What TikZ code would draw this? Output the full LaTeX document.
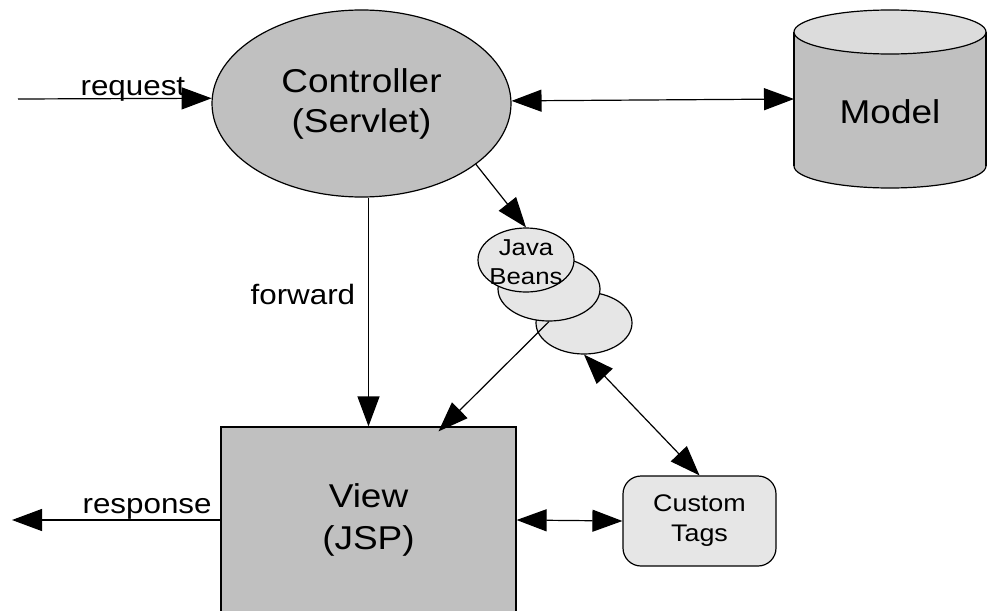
\documentclass[tikz,border=0pt]{standalone}
\usepackage{fontspec}
\setmainfont{Liberation Sans}[FakeStretch=1.12]
\usetikzlibrary{arrows.meta,shapes.geometric,calc}
\definecolor{mid}{HTML}{C0C0C0}
\definecolor{lite}{HTML}{E6E6E6}
\definecolor{cyltop}{HTML}{DCDCDC}
\tikzset{
  head/.tip={Triangle[length=30pt,width=22pt]},
  arr/.style={-head},
  darr/.style={head-head},
  bigtxt/.style={font=\fontsize{33}{40}\selectfont, align=center},
  lbl/.style={font=\fontsize{28}{32}\selectfont, inner sep=0pt},
  smalltxt/.style={font=\fontsize{23}{29}\selectfont, align=center},
  bean/.style={ellipse, draw, fill=lite, inner sep=0pt},
}
\begin{document}
\begin{tikzpicture}[x=1pt,y=-1pt,line width=1.2pt]
\useasboundingbox (0,0) rectangle (987,610);

% Model cylinder
\filldraw[fill=mid] (890,166) ellipse[x radius=96, y radius=22];
\fill[mid] (794,32) rectangle (986,166);
\draw (794,32) -- (794,166) (986,32) -- (986,166);
\filldraw[fill=cyltop] (890,32) ellipse[x radius=96, y radius=22];
\node[bigtxt] (model) at (890,112) {Model};
\coordinate (modelW) at (794,99);

% Controller
\node[ellipse, draw, fill=mid, minimum width=299pt, minimum height=187pt, inner sep=0pt, bigtxt] (ctrl) at (361.5,103.5) {Controller\\(Servlet)};

% View
\node[draw, fill=mid, minimum width=295pt, minimum height=186pt, inner sep=0pt, bigtxt, font=\fontsize{33}{42}\selectfont] (view) at (368.5,520) {View\\(JSP)};

% Java Beans
\node[bean, minimum width=96pt, minimum height=62pt] (jb3) at (584,323) {};
\node[bean, minimum width=102pt, minimum height=64pt] (jb2) at (549,289) {};
\node[bean, minimum width=96pt, minimum height=64pt] (jb1) at (526,260) {};
\node[smalltxt, inner sep=0pt] (jbtxt) at (526,262) {Java\\Beans};

% Custom Tags
\node[draw, fill=lite, rounded corners=18pt, minimum width=153pt, minimum height=90pt, inner sep=0pt, smalltxt, font=\fontsize{24}{30}\selectfont] (tags) at (699.5,521) {Custom\\Tags};

% request
\coordinate (reqS) at (18,99);
\draw[arr] (reqS) -- (ctrl.178.5);
\node[lbl, anchor=base west] (reqlbl) at (80,95) {request};

% controller <-> model
\draw[darr] (ctrl.1.5) -- (modelW);

% forward
\draw[arr] (ctrl.south -| view.north) -- (view.north);
\node[lbl, anchor=base west] (fwdlbl) at (250,304) {forward};

% controller -> beans
\draw[arr] (ctrl.-28.5) -- (jb1.north);

% beans -> view
\draw[arr] (jb2.south) -- ($(view.north)+(70,5)$);

% beans <-> tags
\draw[darr] (jb3.south) -- (tags.north);

% view <-> tags
\draw[darr] (view.east) -- (tags.west);

% response
\coordinate (respE) at (12,520);
\draw[arr] (view.west) -- (respE);
\node[lbl, anchor=base west] (resplbl) at (82,513) {response};
\end{tikzpicture}
\end{document}
